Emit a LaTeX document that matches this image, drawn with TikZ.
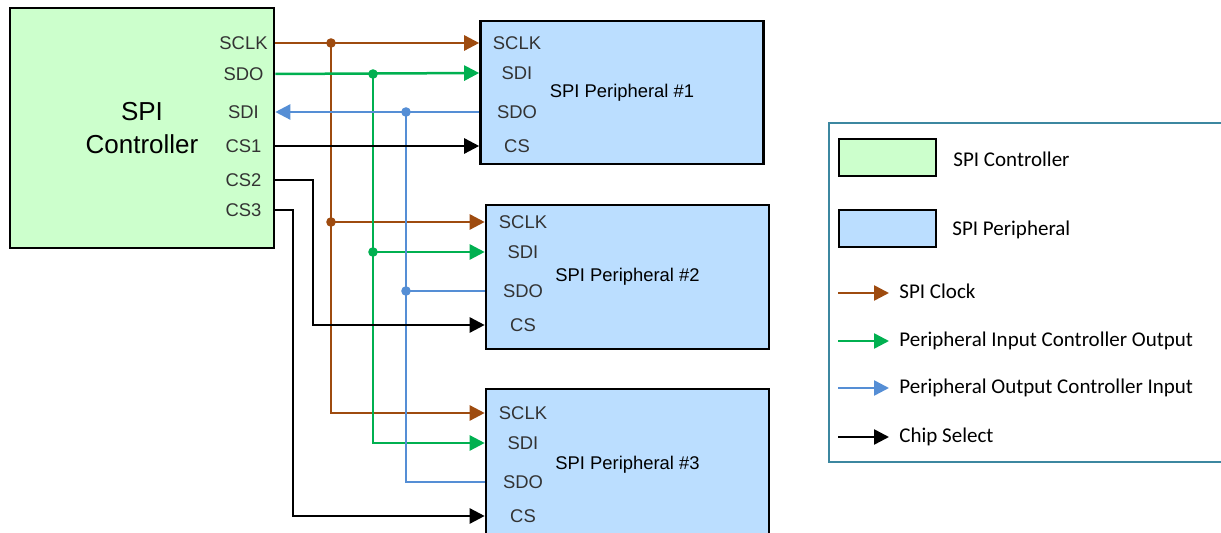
\documentclass[tikz,border=0pt]{standalone}
\usepackage{fontspec}
\setmainfont{Liberation Sans}
\newfontfamily\keyfont{Carlito}
\usetikzlibrary{arrows.meta}

\definecolor{clkcol}{RGB}{158,75,15}
\definecolor{mosicol}{RGB}{0,176,80}
\definecolor{misocol}{RGB}{85,142,213}
\definecolor{ctrlfill}{RGB}{204,255,204}
\definecolor{perfill}{RGB}{187,222,255}
\definecolor{framecol}{RGB}{60,135,160}

\begin{document}
\begin{tikzpicture}[
    x=0.5pt, y=-0.5pt,
    >={Triangle[length=7.5pt, width=7.5pt]},
    wire/.style    = {line width=1.25pt},
    clk/.style     = {wire, clkcol},
    mosi/.style    = {wire, mosicol},
    miso/.style    = {wire, misocol},
    cs/.style      = {wire, black},
    ctrlbox/.style = {draw, line width=1.3pt, fill=ctrlfill},
    perbox/.style  = {draw, line width=1.3pt, fill=perfill,
                      minimum width=141.5pt, font=\fontsize{9.2}{11}\selectfont},
    pin/.style     = {inner sep=0pt, text=black!80, font=\fontsize{9.2}{11}\selectfont},
    key/.style     = {inner sep=0pt, font=\keyfont\fontsize{10.5}{12}\selectfont}
]
\useasboundingbox (0,0) rectangle (1221,533);
\clip (0,0) rectangle (1221,533);

% Controller
\node[ctrlbox, minimum width=132pt, minimum height=120pt] (ctrl) at (142,128) {};
\node[align=center, font=\fontsize{13}{16.5}\selectfont] (ctrl-name) at (142,128) {SPI\\Controller};
\foreach \s/\t/\y in {sclk/SCLK/43, sdo/SDO/74, sdi/SDI/112,
                      cs1/CS1/146, cs2/CS2/180, cs3/CS3/210}
    \node[pin] (c-\s) at (243.5,\y) {\t};

% Peripherals
\node[perbox, minimum height=71.5pt] (per1) at (622,92.5) {SPI Peripheral \#1};
\node[perbox, minimum height=72pt] (per2) at (627.5,277) {SPI Peripheral \#2};
\node[perbox, minimum height=75.5pt] (per3) at (627.5,464.5) {SPI Peripheral \#3};
\foreach \n/\x/\y in {1/517/43, 2/523/222, 3/523/413} {
    \node[pin] (p\n-sclk) at (\x,\y) {SCLK};
    \node[pin] (p\n-sdi) at (\x,\y+30) {SDI};
    \node[pin] (p\n-sdo) at (\x,\y+69) {SDO};
    \node[pin] (p\n-cs) at (\x,\y+103) {CS};
}

% Bus columns
\coordinate (clk-bus) at (331,0);
\coordinate (mosi-bus) at (373,0);
\coordinate (miso-bus) at (406,0);
\coordinate (cs2-bus) at (313,0);
\coordinate (cs3-bus) at (293,0);

% Clock
\draw[clk, ->] (ctrl.east |- c-sclk) -- (per1.west |- p1-sclk);
\draw[clk, ->] (clk-bus |- c-sclk) |- (per3.west |- p3-sclk);
\draw[clk, ->] (clk-bus |- p2-sclk) -- (per2.west |- p2-sclk);
\fill[clkcol] (clk-bus |- c-sclk) circle (2.4pt) (clk-bus |- p2-sclk) circle (2.4pt);

% Controller out, peripheral in
\draw[mosi, ->] (ctrl.east |- c-sdo) -- (per1.west |- p1-sdi);
\draw[mosi, ->] (mosi-bus |- c-sdo) |- (per3.west |- p3-sdi);
\draw[mosi, ->] (mosi-bus |- p2-sdi) -- (per2.west |- p2-sdi);
\fill[mosicol] (mosi-bus |- c-sdo) circle (2.4pt) (mosi-bus |- p2-sdi) circle (2.4pt);

% Peripheral out, controller in
\draw[miso, ->] (per1.west |- p1-sdo) -- (ctrl.east |- c-sdi);
\draw[miso] (per3.west |- p3-sdo) -| (miso-bus |- c-sdi);
\draw[miso] (per2.west |- p2-sdo) -- (miso-bus |- p2-sdo);
\fill[misocol] (miso-bus |- c-sdi) circle (2.4pt) (miso-bus |- p2-sdo) circle (2.4pt);

% Chip selects
\draw[cs, ->] (ctrl.east |- c-cs1) -- (per1.west |- p1-cs);
\draw[cs, ->] (ctrl.east |- c-cs2) -- (cs2-bus |- c-cs2) |- (per2.west |- p2-cs);
\draw[cs, ->] (ctrl.east |- c-cs3) -- (cs3-bus |- c-cs3) |- (per3.west |- p3-cs);

% Legend
\draw[framecol, line width=0.9pt] (829,123) rectangle (1240,462);
\node[ctrlbox, minimum width=48.5pt, minimum height=18.5pt] (key-ctrl) at (887.5,157.5) {};
\node[ctrlbox, fill=perfill, minimum width=48.5pt, minimum height=18.5pt] (key-per) at (887.5,228.5) {};
\node[key, anchor=base west] (key-ctrl-txt) at (953,167) {SPI Controller};
\node[key, anchor=base west] (key-per-txt) at (952,236) {SPI Peripheral};
\foreach \s/\y/\t in {clk/293/SPI Clock,
                      mosi/341/Peripheral Input Controller Output,
                      miso/388/Peripheral Output Controller Input,
                      cs/437/Chip Select} {
    \coordinate (key-\s-a) at (838,\y);
    \coordinate (key-\s-b) at (889,\y);
    \node[key, anchor=base west] (key-\s) at (899,\y+6) {\t};
    \draw[\s, ->] (key-\s-a) -- (key-\s-b);
}

\end{tikzpicture}
\end{document}
